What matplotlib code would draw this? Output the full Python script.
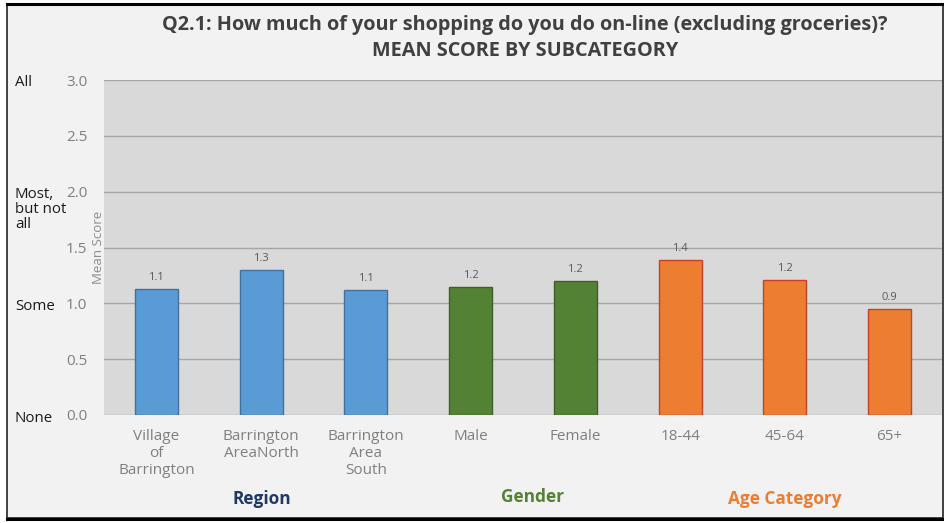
import matplotlib
matplotlib.use("Agg")
import matplotlib.pyplot as plt
from matplotlib.patches import Rectangle
from matplotlib.transforms import blended_transform_factory

plt.rcParams['font.family'] = ['Open Sans', 'DejaVu Sans']

# data
categories = ["Village\nof\nBarrington", "Barrington\nAreaNorth", "Barrington\nArea\nSouth",
              "Male", "Female", "18-44", "45-64", "65+"]
scores = [1.13, 1.30, 1.12, 1.15, 1.20, 1.39, 1.21, 0.95]
score_labels = ["1.1", "1.3", "1.1", "1.2", "1.2", "1.4", "1.2", "0.9"]
groups = ["Region", "Region", "Region", "Gender", "Gender", "Age", "Age", "Age"]

group_fill = {"Region": "#5b9bd5", "Gender": "#548235", "Age": "#ed7d31"}
group_edge = {"Region": "#41719c", "Gender": "#3d5f27", "Age": "#c8402a"}

W, H = 945, 523
fig = plt.figure(figsize=(W / 100, H / 100), dpi=100)
fig.patch.set_facecolor("white")

# chart frame
frame = Rectangle((7 / W, 5 / H), 936 / W, 513 / H, transform=fig.transFigure,
                  facecolor="#f2f2f2", edgecolor="#222222", lw=1.2, zorder=-5)
fig.add_artist(frame)
fig.add_artist(plt.Line2D([7 / W, 943 / W], [4 / H, 4 / H], color="black", lw=2.2, zorder=-4))
fig.add_artist(plt.Line2D([7 / W, 943 / W], [519 / H, 519 / H], color="black", lw=2.2, zorder=-4))

ax = fig.add_axes([104 / W, (H - 415) / H, 838 / W, 335 / H])
ax.set_facecolor("#d9d9d9")

x = range(len(categories))
bars = ax.bar(x, scores, width=0.41,
              color=[group_fill[g] for g in groups],
              edgecolor=[group_edge[g] for g in groups], linewidth=1.0, zorder=3)

for xi, v, lab in zip(x, scores, score_labels):
    ax.text(xi, v + 0.05, lab, ha="center", va="bottom", fontsize=8, color="#595959")

ax.set_xlim(-0.5, len(categories) - 0.5)
ax.set_ylim(0, 3.0)
ax.set_yticks([0, 0.5, 1.0, 1.5, 2.0, 2.5, 3.0])
ax.set_yticklabels(["0.0", "0.5", "1.0", "1.5", "2.0", "2.5", "3.0"])
ax.set_xticks(list(x))
ax.set_xticklabels(categories, linespacing=1.2)
ax.tick_params(axis="y", length=0, pad=12, labelsize=11, labelcolor="#7f7f7f")
ax.tick_params(axis="x", length=0, pad=10, labelsize=11, labelcolor="#7f7f7f")
ax.yaxis.grid(True, color="#a6a6a6", lw=1.0, zorder=1)
ax.set_axisbelow(True)
for s in ax.spines.values():
    s.set_visible(False)

# score descriptions on the far left
tr = blended_transform_factory(fig.transFigure, ax.transData)
for lab, y in [("All", 2.98), ("Most,\nbut not\nall", 1.84), ("Some", 0.97), ("None", -0.03)]:
    ax.text(15 / W, y, lab, transform=tr, ha="left", va="center", fontsize=10.8,
            color="#1a1a1a", linespacing=1.0, clip_on=False)

fig.text(99 / W, 1 - 247 / H, "Mean Score", rotation=90, ha="center", va="center",
         fontsize=9.5, color="#8c8c8c")

fig.text(525 / W, 1 - 25 / H, "Q2.1: How much of your shopping do you do on-line (excluding groceries)?",
         ha="center", va="center", fontsize=14.3, fontweight="bold", color="#404040")
fig.text(525 / W, 1 - 51 / H, "MEAN SCORE BY SUBCATEGORY",
         ha="center", va="center", fontsize=14.3, fontweight="bold", color="#404040")

fig.text(262 / W, 1 - 499 / H, "Region", ha="center", va="center", fontsize=12.4,
         fontweight="bold", color="#1f3864")
fig.text(532 / W, 1 - 497 / H, "Gender", ha="center", va="center", fontsize=12.4,
         fontweight="bold", color="#548235")
fig.text(785 / W, 1 - 499 / H, "Age Category", ha="center", va="center", fontsize=12.4,
         fontweight="bold", color="#ed7d31")

fig.savefig("out.png", dpi=100)
